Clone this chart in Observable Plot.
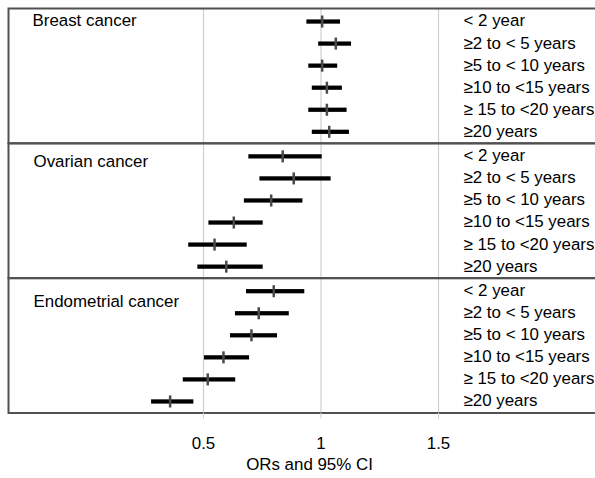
<!DOCTYPE html>
<html>
<head>
<meta charset="utf-8">
<script src="https://cdn.jsdelivr.net/npm/d3@7"></script>
<script src="https://cdn.jsdelivr.net/npm/@observablehq/plot@0.6"></script>
<style>
  html, body { margin: 0; padding: 0; background: #fff; overflow: hidden; }
</style>
</head>
<body>
<div id="chart"></div>
<script>
const panels = ["Breast cancer", "Ovarian cancer", "Endometrial cancer"];
const durations = ["< 2 year", "≥2 to < 5 years", "≥5 to < 10 years", "≥10 to <15 years", "≥ 15 to <20 years", "≥20 years"];

const breastLo = [0.94, 0.99, 0.948, 0.963, 0.948, 0.963];
const breastOR = [1.005, 1.063, 1.005, 1.025, 1.025, 1.035];
const breastHi = [1.083, 1.13, 1.071, 1.091, 1.111, 1.121];

const ovarianLo = [0.693, 0.74, 0.674, 0.523, 0.437, 0.476];
const ovarianOR = [0.837, 0.884, 0.788, 0.629, 0.547, 0.597];
const ovarianHi = [1.005, 1.043, 0.923, 0.754, 0.686, 0.754];

const endoLo = [0.683, 0.636, 0.615, 0.504, 0.414, 0.279];
const endoOR = [0.799, 0.735, 0.704, 0.585, 0.518, 0.358];
const endoHi = [0.931, 0.865, 0.815, 0.696, 0.637, 0.459];

const xTicks = [0.5, 1, 1.5];
const xTitle = "ORs and 95% CI";

const series = [
  [breastLo, breastOR, breastHi],
  [ovarianLo, ovarianOR, ovarianHi],
  [endoLo, endoOR, endoHi]
];
const rows = [];
panels.forEach((p, pi) => {
  durations.forEach((d, di) => {
    rows.push({panel: p, duration: d, lo: series[pi][0][di], or: series[pi][1][di], hi: series[pi][2][di]});
  });
});
const titleData = panels.map(p => ({panel: p, duration: durations[0]}));

const W = 595, H = 478;
const mL = 8, mR = -15, mT = 8, mB = 65.5;
// x: 1 -> 320.5px, 0.5 -> 203px
const px = 235;
const x0 = 1 + (mL - 320.5) / px;
const x1 = 1 + (W - mR - 320.5) / px;
const FS = 16.9;

const chart = Plot.plot({
  width: W,
  height: H,
  marginLeft: mL,
  marginRight: mR,
  marginTop: mT,
  marginBottom: mB,
  style: {fontFamily: "'Liberation Sans', Arial, sans-serif", fontSize: FS + "px", color: "#000", background: "#fff"},
  x: {domain: [x0, x1]},
  y: {domain: durations, padding: 0, round: false, insetTop: 2.5, insetBottom: 0, axis: null},
  fy: {domain: panels, padding: 0, round: false, axis: null},
  marks: [
    Plot.ruleX(xTicks, {stroke: "#cfcfcf", strokeWidth: 1.2}),
    Plot.frame({stroke: "#505050", strokeWidth: 2}),
    Plot.barX(rows, {x1: "lo", x2: "hi", y: "duration", fy: "panel", fill: "#000", insetTop: 8.9, insetBottom: 8.9}),
    Plot.tickX(rows, {x: "or", y: "duration", fy: "panel", stroke: "#4a4a4a", strokeWidth: 2.5, insetTop: 5, insetBottom: 5}),
    Plot.text(rows, {y: "duration", fy: "panel", text: "duration", frameAnchor: "left", dx: 455, dy: -1, textAnchor: "start", fill: "#000", fontSize: FS}),
    Plot.text(titleData.filter(d => d.panel === panels[0]), {y: "duration", fy: "panel", text: "panel", frameAnchor: "left", dx: 24, dy: -1, textAnchor: "start", fill: "#000", fontSize: FS}),
    Plot.text(titleData.filter(d => d.panel === panels[1]), {y: "duration", fy: "panel", text: "panel", frameAnchor: "left", dx: 25, dy: 5, textAnchor: "start", fill: "#000", fontSize: FS}),
    Plot.text(titleData.filter(d => d.panel === panels[2]), {y: "duration", fy: "panel", text: "panel", frameAnchor: "left", dx: 25, dy: 10, textAnchor: "start", fill: "#000", fontSize: FS}),
    Plot.axisX({ticks: xTicks, tickSize: 6, stroke: "#cfcfcf", tickPadding: 17.5, fontSize: FS, fill: "#000", label: null, tickFormat: d => String(d)}),
    Plot.text([xTitle], {text: d => d, frameAnchor: "bottom", dy: 57, fill: "#000", fontSize: FS, facetAnchor: "bottom"})
  ]
});
document.getElementById("chart").appendChild(chart);
</script>
</body>
</html>
